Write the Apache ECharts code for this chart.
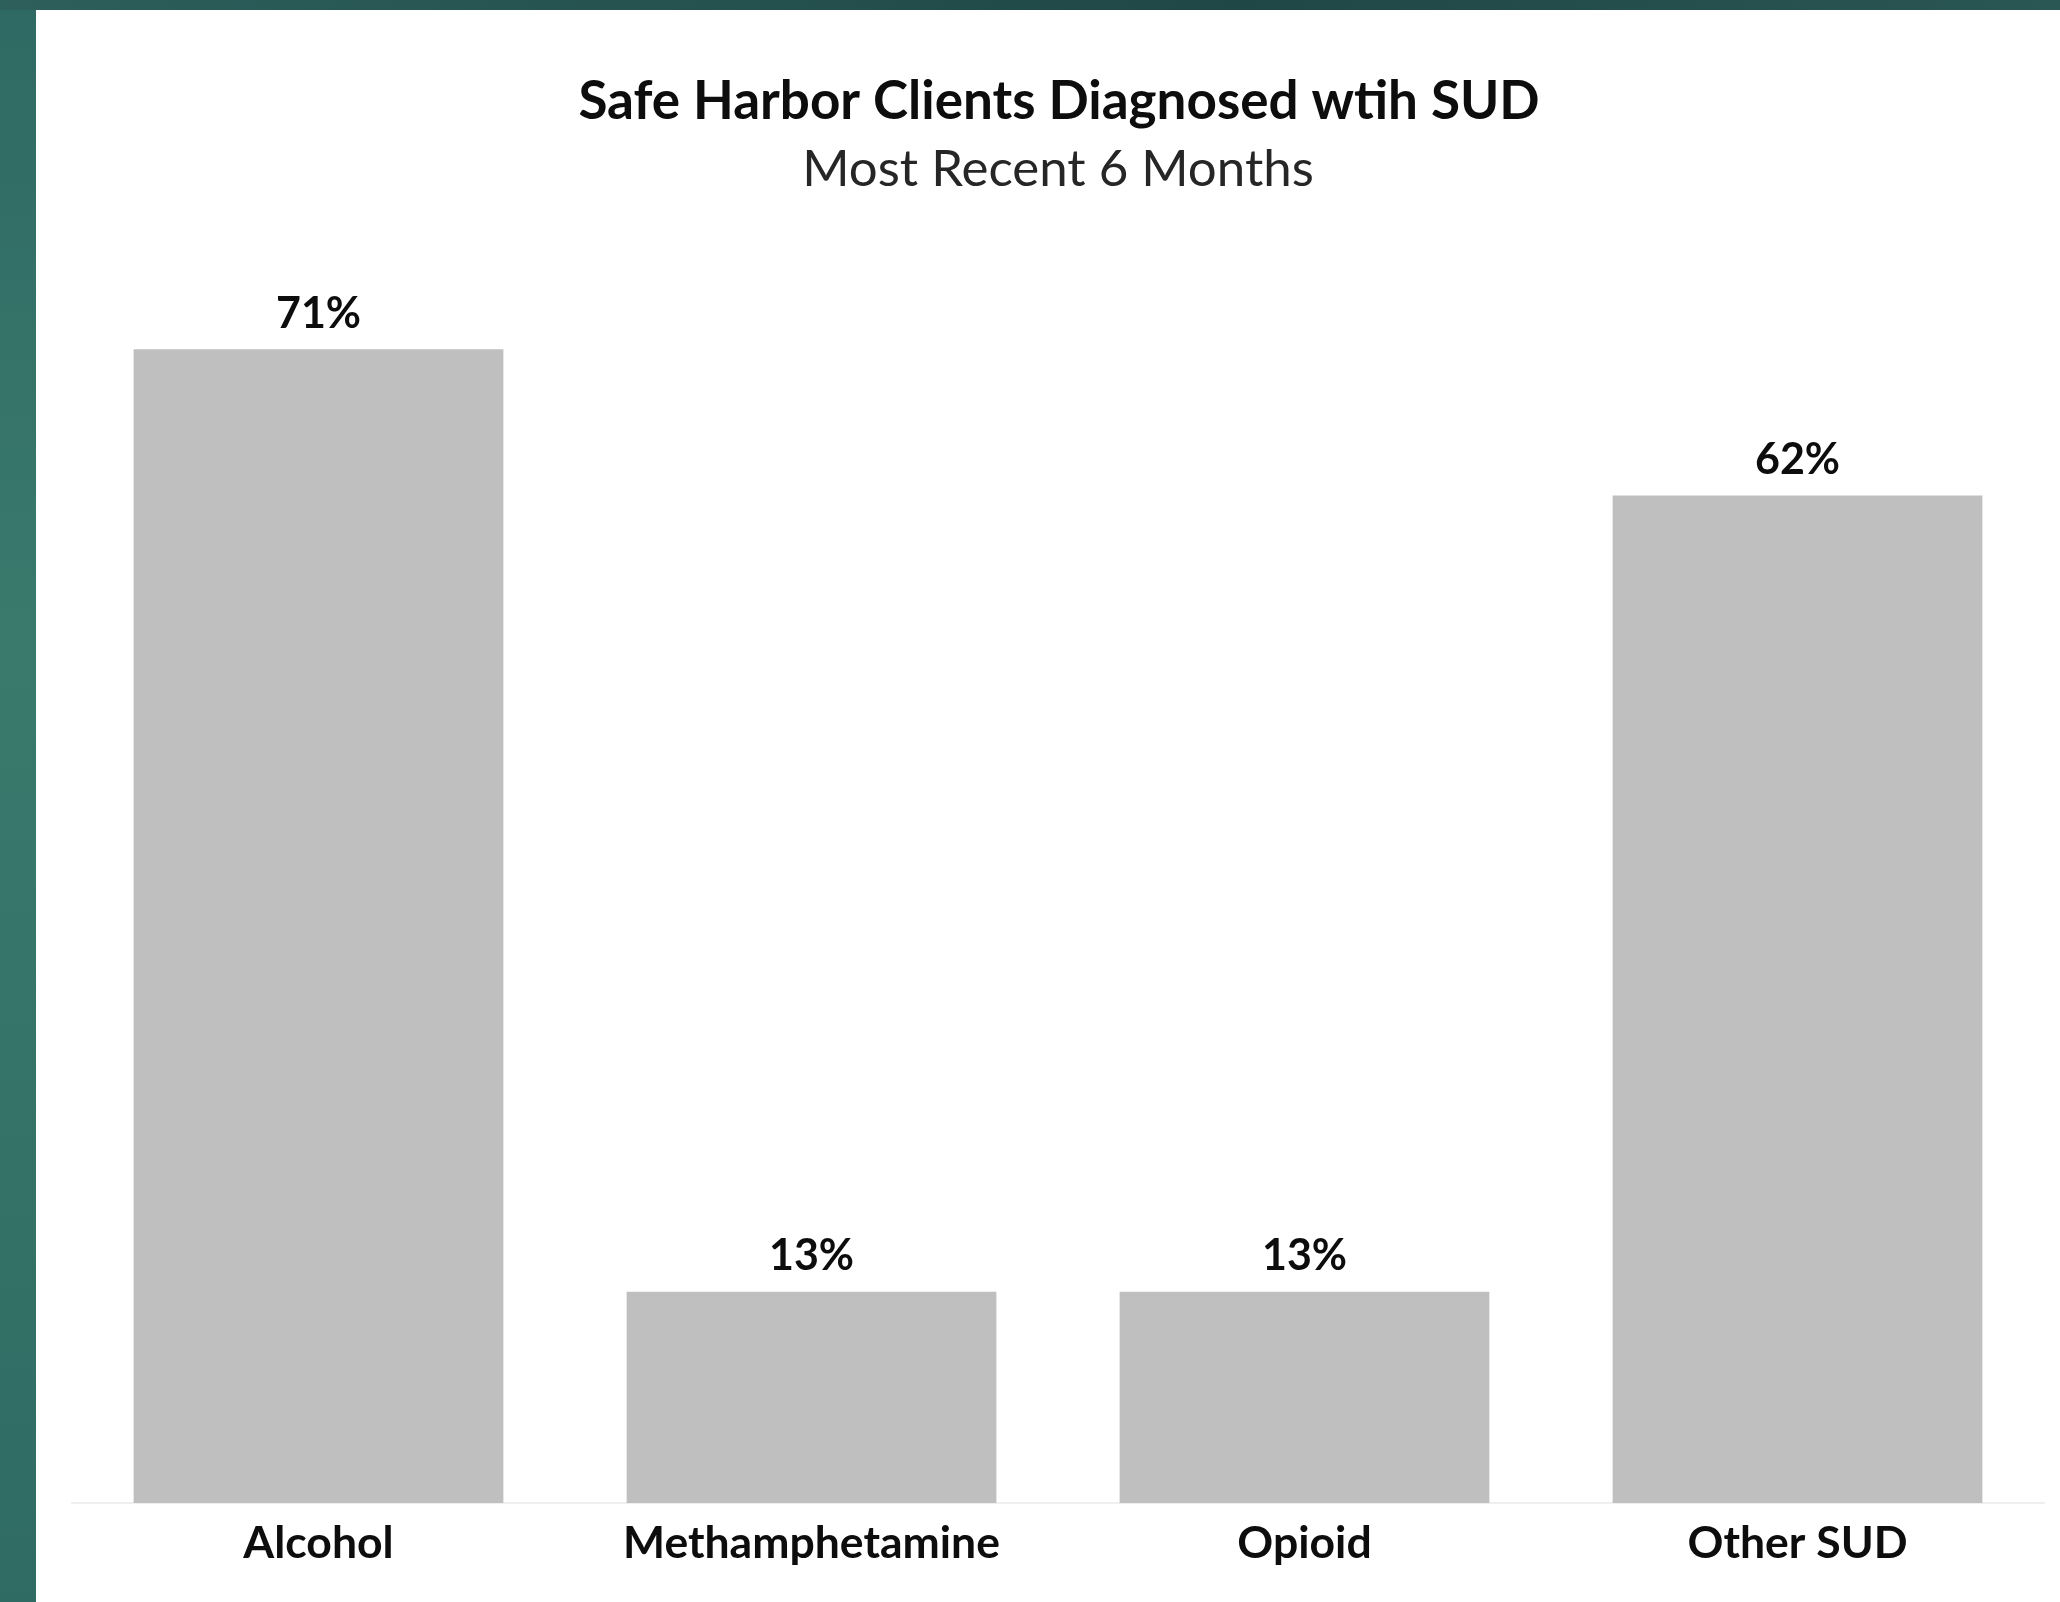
<!DOCTYPE html>
<html>

<head>
    <title>Safe Harbor Clients Diagnosed with SUD</title>
    <meta charset="utf-8">
    <script src="https://cdn.jsdelivr.net/npm/echarts@6/dist/echarts.min.js"></script>
    <style>
        html, body {
            margin: 0;
            padding: 0;
            width: 2060px;
            height: 1602px;
            overflow: hidden;
            background: linear-gradient(to bottom, #2f6963 0%, #3a7a6d 40%, #2f6b63 100%);
        }
        #topband {
            position: absolute;
            left: 0;
            top: 0;
            width: 2060px;
            height: 10px;
            background: linear-gradient(to right, #2d5f5b, #1f4746 60%, #2a5653);
        }
        #main {
            position: absolute;
            left: 36px;
            top: 10px;
            width: 2024px;
            height: 1592px;
            background: #ffffff;
        }
    </style>
</head>

<body>
    <div id="topband"></div>
    <div id="main"></div>

    <script type="text/javascript">
        // data
        var categories = ['Alcohol', 'Methamphetamine', 'Opioid', 'Other SUD'];
        var percents = [71, 13, 13, 62];

        var fontName = 'Lato';

        var myChart = echarts.init(document.getElementById('main'));

        var option = {
            animation: false,
            title: [{
                text: 'Safe Harbor Clients Diagnosed wtih SUD',
                left: 1018,
                textAlign: 'center',
                top: 60,
                textStyle: {
                    fontFamily: fontName,
                    fontWeight: 'bold',
                    fontSize: 53,
                    color: '#0d0d0d'
                }
            }, {
                text: 'Most Recent 6 Months',
                left: 1017,
                textAlign: 'center',
                top: 129,
                textStyle: {
                    fontFamily: fontName,
                    fontWeight: 'normal',
                    fontSize: 51,
                    color: '#262626'
                }
            }],
            grid: {
                left: 36,
                right: 16,
                top: 193,
                bottom: 99
            },
            xAxis: {
                type: 'category',
                data: categories,
                axisTick: { show: false },
                axisLine: {
                    lineStyle: { color: '#efefef', width: 2 }
                },
                axisLabel: {
                    margin: 18,
                    fontFamily: fontName,
                    fontWeight: 'bold',
                    fontSize: 44.5,
                    color: '#0d0d0d'
                }
            },
            yAxis: {
                type: 'value',
                min: 0,
                max: 80,
                show: false,
                splitLine: { show: false }
            },
            series: [{
                type: 'bar',
                data: percents,
                barCategoryGap: '25%',
                itemStyle: { color: '#bfbfbf' },
                label: {
                    show: true,
                    position: 'top',
                    distance: 14,
                    formatter: '{c}%',
                    fontFamily: fontName,
                    fontWeight: 'bold',
                    fontSize: 43,
                    color: '#0d0d0d'
                }
            }]
        };

        myChart.setOption(option);
    </script>
</body>

</html>
